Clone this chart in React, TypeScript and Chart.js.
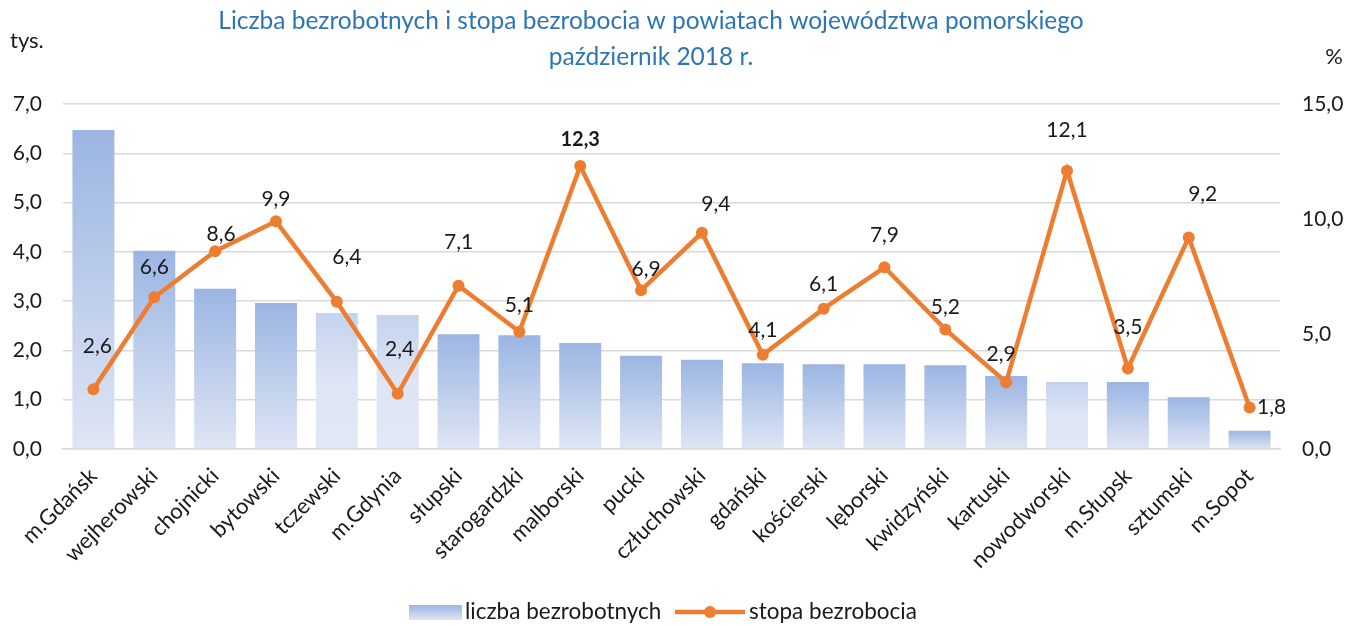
import React, { useEffect, useRef } from 'react';
import { Chart, registerables } from 'chart.js';

Chart.register(...registerables);

const categories = [
  'm.Gdańsk', 'wejherowski', 'chojnicki', 'bytowski', 'tczewski', 'm.Gdynia',
  'słupski', 'starogardzki', 'malborski', 'pucki', 'człuchowski', 'gdański',
  'kościerski', 'lęborski', 'kwidzyński', 'kartuski', 'nowodworski', 'm.Słupsk',
  'sztumski', 'm.Sopot',
];
const unemployed = [6.47, 4.02, 3.25, 2.96, 2.76, 2.72, 2.33, 2.31, 2.15, 1.89, 1.81, 1.74, 1.72, 1.72, 1.7, 1.48, 1.36, 1.36, 1.05, 0.37];
const rate = [2.6, 6.6, 8.6, 9.9, 6.4, 2.4, 7.1, 5.1, 12.3, 6.9, 9.4, 4.1, 6.1, 7.9, 5.2, 2.9, 12.1, 3.5, 9.2, 1.8];
const leftTicks = [0, 1, 2, 3, 4, 5, 6, 7];
const rightTicks = [0, 5, 10, 15];
const titleLines = ['Liczba bezrobotnych i stopa bezrobocia w powiatach województwa pomorskiego', 'październik 2018 r.'];
const seriesNames = ['liczba bezrobotnych', 'stopa bezrobocia'];
const leftUnit = 'tys.';
const rightUnit = '%';

// style-only: bars drawn with lighter gradient, and label offsets (px) from points
const lightBars = [4, 5, 16];
const labelOffsets: [number, number][] = [
  [4, -43], [0, -30], [6, -17], [0, -22], [10, -45], [2, -45], [0, -43], [0, -26],
  [0, -27], [5, -21], [14, -29], [0, -24], [0, -24], [0, -32], [0, -22], [-5, -28],
  [0, -40], [0, -41], [14, -43], [22, 0],
];

const FONT = 'Lato, "Noto Sans", sans-serif';
const FS = 21;
const TEXT = '#1a1a1a';
const ORANGE = '#ED7D31';
const fmt = (v: number) => v.toFixed(1).replace('.', ',');

export default function App() {
  const ref = useRef<HTMLCanvasElement | null>(null);
  useEffect(() => {
    if (!ref.current) return;
    const maxRate = Math.max(...rate);

    const overlay = {
      id: 'overlay',
      afterDatasetsDraw(chart: any) {
        const c = chart.ctx;
        const meta = chart.getDatasetMeta(0);
        c.save();
        c.textAlign = 'center';
        c.textBaseline = 'middle';
        c.fillStyle = TEXT;
        meta.data.forEach((pt: any, i: number) => {
          const bold = rate[i] === maxRate;
          c.font = `${bold ? 'bold ' : ''}${bold ? 20 : FS}px ${FONT}`;
          const [dx, dy] = labelOffsets[i];
          c.fillText(fmt(rate[i]), pt.x + dx, pt.y + dy);
        });
        c.restore();
      },
      afterDraw(chart: any) {
        const c = chart.ctx;
        c.save();
        c.textBaseline = 'middle';
        // title
        c.fillStyle = '#2E75B6';
        c.font = `24.5px ${FONT}`;
        c.textAlign = 'center';
        c.fillText(titleLines[0], 651, 21);
        c.fillText(titleLines[1], 651, 57);
        // units
        c.fillStyle = TEXT;
        c.font = `22px ${FONT}`;
        c.textAlign = 'left';
        c.fillText(leftUnit, 10, 41);
        c.textAlign = 'right';
        c.fillText(rightUnit, 1343, 57);
        // legend
        c.font = `22.5px ${FONT}`;
        const ly = 612;
        const g = c.createLinearGradient(0, ly - 7, 0, ly + 8);
        g.addColorStop(0, 'rgb(155,181,227)');
        g.addColorStop(1, 'rgb(222,229,244)');
        c.fillStyle = g;
        c.fillRect(409, ly - 7, 53, 15);
        c.fillStyle = TEXT;
        c.textAlign = 'left';
        c.fillText(seriesNames[0], 465, ly);
        c.strokeStyle = ORANGE;
        c.lineWidth = 4.5;
        c.beginPath();
        c.moveTo(675, ly);
        c.lineTo(745, ly);
        c.stroke();
        c.fillStyle = ORANGE;
        c.beginPath();
        c.arc(710, ly, 6, 0, Math.PI * 2);
        c.fill();
        c.fillStyle = TEXT;
        c.fillText(seriesNames[1], 749, ly);
        c.restore();
      },
    };

    const barColor = (ctx: any) => {
      const chart = ctx.chart;
      const y = chart.scales?.y;
      if (!y || !chart.chartArea) return 'rgb(170,192,232)';
      const top = y.getPixelForValue(ctx.raw ?? 0);
      const base = y.getPixelForValue(0);
      if (!isFinite(top) || !isFinite(base) || base - top < 1) return 'rgb(170,192,232)';
      const g = chart.ctx.createLinearGradient(0, top, 0, base);
      if (lightBars.includes(ctx.dataIndex)) {
        g.addColorStop(0, 'rgb(196,211,238)');
        g.addColorStop(0.5, 'rgb(222,229,244)');
        g.addColorStop(1, 'rgb(225,231,245)');
      } else {
        g.addColorStop(0, 'rgb(155,181,227)');
        g.addColorStop(1, 'rgb(223,230,244)');
      }
      return g;
    };

    const chart = new Chart(ref.current, {
      data: {
        labels: categories,
        datasets: [
          {
            type: 'line',
            label: seriesNames[1],
            data: rate,
            yAxisID: 'y1',
            borderColor: ORANGE,
            backgroundColor: ORANGE,
            borderWidth: 4.5,
            pointRadius: 6,
            pointBackgroundColor: ORANGE,
            pointBorderWidth: 0,
            tension: 0,
            order: 0,
          } as any,
          {
            type: 'bar',
            label: seriesNames[0],
            data: unemployed,
            yAxisID: 'y',
            backgroundColor: barColor,
            barPercentage: 0.69,
            categoryPercentage: 1,
            order: 1,
          } as any,
        ],
      },
      options: {
        animation: false,
        responsive: true,
        maintainAspectRatio: false,
        layout: { padding: { top: 104, left: 0, right: 0, bottom: 0 } },
        plugins: {
          legend: { display: false },
          title: { display: false },
          tooltip: { enabled: false },
        },
        scales: {
          x: {
            grid: { display: false, drawTicks: false },
            border: { display: true, color: '#D9D9D9', width: 1.5 },
            ticks: {
              color: TEXT,
              font: { family: FONT, size: 22 },
              minRotation: 45,
              maxRotation: 45,
              padding: 14,
              autoSkip: false,
            },
            afterFit: (s: any) => { s.height = 626 - 449; },
          },
          y: {
            position: 'left',
            min: 0,
            max: 7,
            afterBuildTicks: (s: any) => { s.ticks = leftTicks.map((v) => ({ value: v })); },
            grid: { color: '#D9D9D9', lineWidth: 1.5, drawTicks: false },
            border: { display: false },
            ticks: {
              color: TEXT,
              font: { family: FONT, size: FS },
              padding: 21,
              callback: (v: any) => fmt(Number(v)),
            },
            afterFit: (s: any) => { s.width = 63; },
          },
          y1: {
            position: 'right',
            min: 0,
            max: 15,
            afterBuildTicks: (s: any) => { s.ticks = rightTicks.map((v) => ({ value: v })); },
            grid: { drawOnChartArea: false, drawTicks: false },
            border: { display: false },
            ticks: {
              color: TEXT,
              font: { family: FONT, size: FS },
              padding: 22,
              callback: (v: any) => fmt(Number(v)),
            },
            afterFit: (s: any) => { s.width = 82; },
          },
        },
      },
      plugins: [overlay],
    } as any);
    return () => chart.destroy();
  }, []);

  return (
    <div style={{ position: 'fixed', left: 0, top: 0, width: 1362, height: 626, background: '#fff' }}>
      <canvas ref={ref} />
    </div>
  );
}
